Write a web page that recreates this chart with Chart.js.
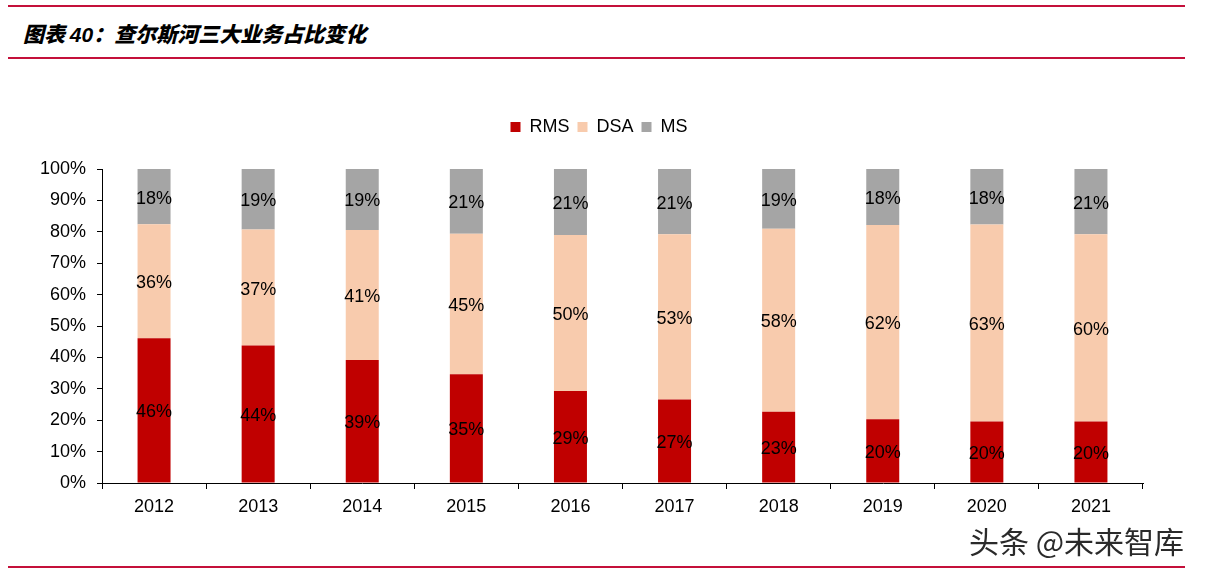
<!DOCTYPE html>
<html>
<head>
<meta charset="utf-8">
<script src="https://cdn.jsdelivr.net/npm/chart.js@4.4.0/dist/chart.umd.min.js"></script>
<style>
  html, body { margin: 0; padding: 0; background: #fff; }
  body { width: 1208px; height: 573px; position: relative; overflow: hidden; }
  .rule { position: absolute; left: 8px; width: 1177px; height: 2px; background: #C4103A; }
  #title { position: absolute; left: 23px; top: 18px; font: italic 900 21px "Noto Sans CJK SC", sans-serif; color: #000; white-space: nowrap; line-height: 30px; }
  #title .num { font-family: "Liberation Sans", Arial, sans-serif; font-weight: bold; }
  #wm { position: absolute; left: 969px; top: 520px; font: 30px "Noto Sans CJK SC", sans-serif; color: #2a2a2a; white-space: nowrap; line-height: 40px;
        text-shadow: 1px 1px 0 #fff, -1px -1px 0 #fff, 1px -1px 0 #fff, -1px 1px 0 #fff; }
  #wrap { position: absolute; left: 0; top: 0; width: 1208px; height: 573px; }
</style>
</head>
<body>
<div class="rule" style="top:5px"></div>
<div id="title">图表 <span class="num">40</span>：查尔斯河三大业务占比变化</div>
<div class="rule" style="top:57px"></div>
<div id="wrap"><canvas id="c" width="1208" height="573"></canvas></div>
<div id="wm">头条 @未来智库</div>
<div class="rule" style="top:566px"></div>
<script>
const years = ['2012','2013','2014','2015','2016','2017','2018','2019','2020','2021'];
const rms = [46.1, 43.8, 39.2, 34.6, 29.3, 26.6, 22.7, 20.3, 19.6, 19.6];
const dsa = [36.3, 36.9, 41.4, 44.8, 49.7, 52.6, 58.3, 61.9, 62.7, 59.6];
const ms  = [17.6, 19.3, 19.4, 20.6, 21.0, 20.8, 19.0, 17.8, 17.7, 20.8];
const yTicks = [0, 10, 20, 30, 40, 50, 60, 70, 80, 90, 100];

const FONT = '"Liberation Sans", Arial, sans-serif';

const valueLabels = {
  id: 'valueLabels',
  afterDatasetsDraw(chart) {
    const ctx = chart.ctx;
    ctx.save();
    ctx.font = '18px ' + FONT;
    ctx.fillStyle = '#000';
    ctx.textAlign = 'center';
    ctx.textBaseline = 'middle';
    chart.data.datasets.forEach((ds, i) => {
      const meta = chart.getDatasetMeta(i);
      meta.data.forEach((el, j) => {
        const p = el.getProps(['x', 'y', 'base'], true);
        ctx.fillText(Math.round(ds.data[j]) + '%', p.x, (p.y + p.base) / 2 + 2);
      });
    });
    ctx.restore();
  }
};

const legendSpacer = {
  id: 'legendSpacer',
  beforeInit(chart) {
    const orig = chart.legend.fit;
    chart.legend.fit = function () { orig.call(this); this.height += 23; };
  }
};

new Chart(document.getElementById('c'), {
  type: 'bar',
  data: {
    labels: years,
    datasets: [
      { label: 'RMS', data: rms, backgroundColor: '#C00000' },
      { label: 'DSA', data: dsa, backgroundColor: '#F8CBAD' },
      { label: 'MS',  data: ms,  backgroundColor: '#A5A5A5' }
    ]
  },
  options: {
    responsive: false,
    animation: false,
    devicePixelRatio: 1,
    layout: { padding: { top: 110, left: 0, right: 10, bottom: 50 } },
    datasets: { bar: { barPercentage: 0.317, categoryPercentage: 1 } },
    plugins: {
      legend: {
        position: 'top',
        labels: { boxWidth: 10, boxHeight: 10, padding: 8, color: '#000', font: { family: FONT, size: 18 } }
      },
      tooltip: { enabled: false }
    },
    scales: {
      x: {
        stacked: true,
        afterFit(s) { s.height = 40; },
        border: { display: true, color: '#000', width: 1 },
        grid: { display: true, offset: true, drawOnChartArea: false, drawTicks: true, tickLength: 6, color: '#000' },
        ticks: { color: '#000', padding: 7, font: { family: FONT, size: 18 } }
      },
      y: {
        stacked: true,
        min: 0, max: 100,
        afterFit(s) { s.width = 102; },
        afterBuildTicks(s) { s.ticks = yTicks.map(v => ({ value: v })); },
        border: { display: true, color: '#000', width: 1 },
        grid: { display: true, drawOnChartArea: false, drawTicks: true, tickLength: 5, color: '#000' },
        ticks: { color: '#000', padding: 11, font: { family: FONT, size: 18 }, callback: v => v + '%' }
      },
      yRight: {
        position: 'right',
        display: true,
        afterFit(s) { s.width = 55; },
        border: { display: false },
        grid: { display: false },
        ticks: { display: false }
      }
    }
  },
  plugins: [valueLabels, legendSpacer]
});
</script>
</body>
</html>
